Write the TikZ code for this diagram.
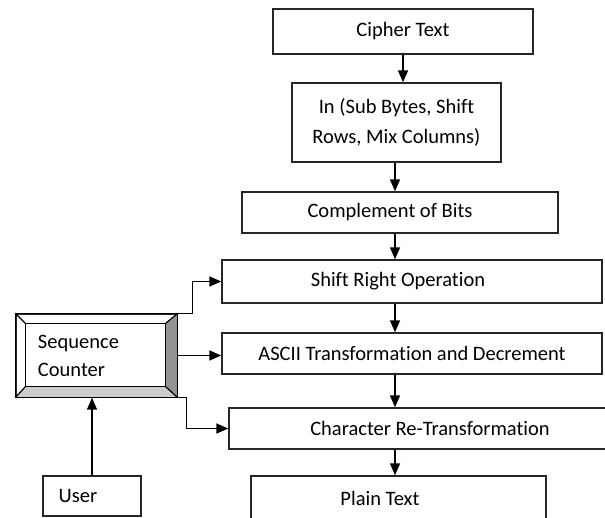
\documentclass[tikz,border=0pt]{standalone}
\usepackage{fontspec}
\setmainfont{Carlito}[Ligatures={NoCommon,NoContextual}]
\usetikzlibrary{arrows.meta,calc}
\tikzset{
  blk/.style={draw=black!85, line width=0.7pt, rectangle, inner sep=0pt,
    font=\fontsize{10.25}{15}\selectfont},
  arr/.style={line width=0.75pt, -{Triangle[length=6pt,width=5pt]}},
}
\begin{document}
\begin{tikzpicture}[x=0.5pt,y=-0.5pt]
\useasboundingbox (0,0) rectangle (605,518);
% decryption chain
\node[blk, minimum width=130pt, minimum height=22.5pt] (cipher) at (403,31.5) {Cipher Text};
\node[blk, minimum width=104.5pt, minimum height=39.5pt, align=center] (in) at (396.5,122.5)
  {In (Sub Bytes, Shift\\Rows, Mix Columns)};
\node[blk, minimum width=158pt, minimum height=20.5pt] (comp) at (400,212.5) {Complement of Bits\hspace*{10pt}};
\node[blk, minimum width=190pt, minimum height=21.5pt] (shift) at (412,281.5) {Shift Right Operation\hspace*{14pt}};
\node[blk, minimum width=190pt, minimum height=20.5pt] (asc) at (412,353.5) {ASCII Transformation and Decrement};
\node[blk, minimum width=191.5pt, minimum height=20.5pt] (char) at (420.5,428.5) {\hspace*{9.5pt}Character Re-Transformation};
\node[blk, minimum width=147.5pt, minimum height=22pt] (plain) at (398.5,498) {Plain Text\hspace*{18.5pt}};
% counter side
\node[blk, minimum height=41.5pt, text width=58.5pt, inner xsep=11pt, align=left,
  font=\fontsize{10.25}{14}\selectfont] (seq) at (96.5,355.5) {Sequence\\Counter};
\fill[black!42] ($(seq.north east)+(-12,10)$) -- (seq.north east) -- (seq.south east)
  -- ($(seq.south east)+(-12,-11)$) -- cycle;
\fill[black!20] (seq.south west) -- ($(seq.south west)+(10,-11)$)
  -- ($(seq.south east)+(-12,-11)$) -- (seq.south east) -- cycle;
\draw[line width=0.6pt] (seq.north west) -- ++(10,10) (seq.north east) -- ++(-12,10)
  (seq.south west) -- ++(10,-11) (seq.south east) -- ++(-12,-11);
\draw[line width=0.7pt] ($(seq.north west)+(10,10)$) rectangle ($(seq.south east)+(-12,-11)$);
\draw[line width=0.7pt] (seq.north west) rectangle (seq.south east);
\node[blk, minimum width=49pt, minimum height=20pt] (user) at (92,496) {User\hspace*{14pt}};

% arrows
\coordinate (spine) at (395,0);
\draw[arr] (cipher) -- (cipher |- in.north);
\draw[arr] (in.south -| spine) -- (comp.north -| spine);
\draw[arr] (comp.south -| spine) -- (shift.north -| spine);
\draw[arr] (shift.south -| spine) -- (asc.north -| spine);
\draw[arr] (asc.south -| spine) -- (char.north -| spine);
\draw[arr] (char.south -| spine) -- (plain.north -| spine);
\draw[arr] (seq.north east) -- ++(15,0) |- (shift.west);
\draw[arr] (seq) -- (seq -| asc.west);
\draw[arr] (seq.south east) -- ++(9,0) |- (char.west);
\draw[arr] (user) -- (user |- seq.south);
\end{tikzpicture}
\end{document}
